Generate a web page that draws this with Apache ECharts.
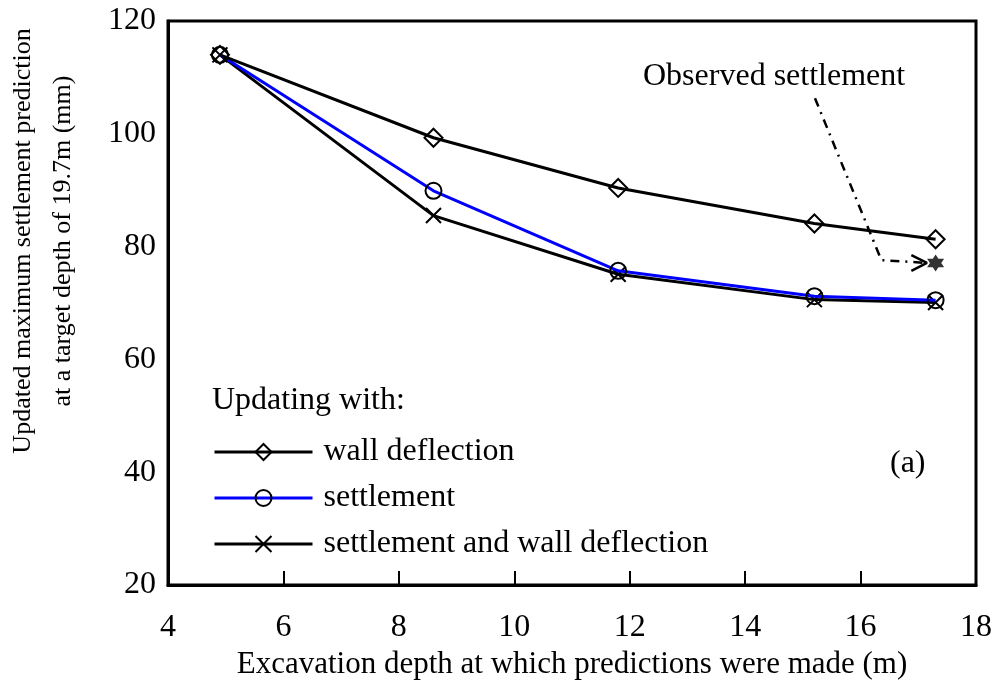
<!DOCTYPE html>
<html>
<head>
<meta charset="utf-8">
<script src="https://cdn.jsdelivr.net/npm/echarts@6/dist/echarts.min.js"></script>
<style>html,body{margin:0;padding:0;background:#fff}#c{width:997px;height:682px}</style>
</head>
<body>
<div id="c"></div>
<script>
// Data
const excavationDepth = [4.9, 8.6, 11.8, 15.2, 17.3];
const wallDeflection = [114.0, 99.3, 90.4, 84.1, 81.3];
const settlement = [114.0, 89.9, 75.7, 71.2, 70.5];
const settlementAndWall = [114.0, 85.5, 75.1, 70.6, 70.1];
const observed = [[17.3, 77.1]];
const annotationPath = [[15.21, 106.3], [16.36, 77.6], [17.15, 77.1]];
const arrowHead = [[16.88, 78.5], [17.15, 77.1], [16.88, 75.7]];
const xTicks = [4, 6, 8, 10, 12, 14, 16, 18];
const yTicks = [20, 40, 60, 80, 100, 120];

const FONT = '"Liberation Serif", "Times New Roman", serif';
const pairs = ys => excavationDepth.map((x, i) => [x, ys[i]]);
const crossPath = 'path://M0,0L10,10M10,0L0,10';
const starPath = 'path://M0,-10L8.66,5L-8.66,5Z M0,10L-8.66,-5L8.66,-5Z';

const chart = echarts.init(document.getElementById('c'), null, {renderer: 'canvas'});
chart.setOption({
  animation: false,
  backgroundColor: '#fff',
  grid: {left: 168, top: 21, right: 21, bottom: 97, show: true, borderColor: '#000', borderWidth: 3,
    containLabel: false, outerBoundsMode: 'none'},
  xAxis: {
    type: 'value', min: xTicks[0], max: xTicks[xTicks.length - 1], interval: 2,
    name: 'Excavation depth at which predictions were made (m)',
    nameLocation: 'middle', nameGap: 58,
    nameTextStyle: {fontFamily: FONT, fontSize: 31, color: '#000'},
    axisLine: {show: true, lineStyle: {color: '#000', width: 3}},
    axisTick: {show: true, inside: true, length: 14, lineStyle: {color: '#000', width: 2}},
    axisLabel: {fontFamily: FONT, fontSize: 32, color: '#000', margin: 27},
    splitLine: {show: false}
  },
  yAxis: {
    type: 'value', min: yTicks[0], max: yTicks[yTicks.length - 1], interval: 20,
    axisLine: {show: true, lineStyle: {color: '#000', width: 3}},
    axisTick: {show: false},
    axisLabel: {fontFamily: FONT, fontSize: 32, color: '#000', margin: 12},
    splitLine: {show: false}
  },
  legend: {
    orient: 'vertical', left: 208, top: 431, itemWidth: 98, itemHeight: 20, itemGap: 14,
    data: ['wall deflection', 'settlement', 'settlement and wall deflection'],
    lineStyle: {width: 3},
    textStyle: {fontFamily: FONT, fontSize: 32, color: '#000', lineHeight: 32, padding: [0, 0, 0, 6]},
    selectedMode: false
  },
  graphic: [
    {type: 'text', left: 212, top: 385, style: {text: 'Updating with:', font: '32px ' + FONT, fill: '#000'}},
    {type: 'text', left: 643, top: 61, style: {text: 'Observed settlement', font: '32px ' + FONT, fill: '#000'}},
    {type: 'text', left: 890, top: 448, style: {text: '(a)', font: '32px ' + FONT, fill: '#000'}},
    {type: 'text', x: 43, y: 241, rotation: Math.PI / 2,
      style: {text: 'Updated maximum settlement prediction\nat a target depth of 19.7m (mm)', font: '26px ' + FONT,
        fill: '#000', align: 'center', verticalAlign: 'middle', lineHeight: 40}}
  ],
  series: [
    {
      name: 'settlement and wall deflection', type: 'line', data: pairs(settlementAndWall),
      symbol: crossPath, symbolSize: 15, z: 3,
      lineStyle: {color: '#000', width: 3},
      itemStyle: {color: 'rgba(0,0,0,0)', borderColor: '#000', borderWidth: 2}
    },
    {
      name: 'settlement', type: 'line', data: pairs(settlement),
      symbol: 'circle', symbolSize: 16, z: 4,
      lineStyle: {color: '#0000ff', width: 3},
      itemStyle: {color: 'rgba(0,0,0,0)', borderColor: '#000', borderWidth: 2}
    },
    {
      name: 'wall deflection', type: 'line', data: pairs(wallDeflection),
      symbol: 'diamond', symbolSize: [18, 18], z: 5,
      lineStyle: {color: '#000', width: 3},
      itemStyle: {color: 'rgba(0,0,0,0)', borderColor: '#000', borderWidth: 2}
    },
    {
      name: 'observed path', type: 'line', data: annotationPath, symbol: 'none', z: 2,
      lineStyle: {color: '#000', width: 2.5, type: [9, 6, 2, 6]}, silent: true
    },
    {
      name: 'observed arrow', type: 'line', data: arrowHead, symbol: 'none', z: 2,
      lineStyle: {color: '#000', width: 2.5}, silent: true
    },
    {
      name: 'Observed settlement', type: 'scatter', data: observed, symbol: starPath, symbolSize: 17, z: 6,
      itemStyle: {color: '#000'}
    }
  ]
});
</script>
</body>
</html>
